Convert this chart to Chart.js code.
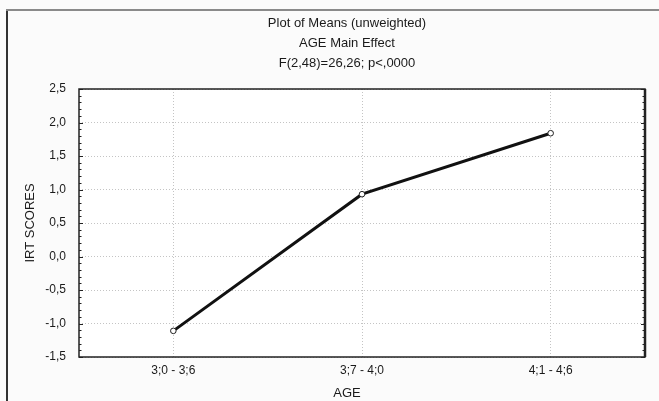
<!DOCTYPE html>
<html>
<head>
<meta charset="utf-8">
<script src="https://cdn.jsdelivr.net/npm/chart.js@4.4.1/dist/chart.umd.min.js"></script>
<style>
  html, body { margin: 0; padding: 0; background: #fbfbfb; }
  #wrap { position: relative; width: 659px; height: 401px; }
</style>
</head>
<body>
<div id="wrap"><canvas id="chart" width="659" height="401"></canvas></div>
<script>
// data
const ageGroups = ['3;0 - 3;6', '3;7 - 4;0', '4;1 - 4;6'];
const irtMeans = [-1.11, 0.93, 1.84];
const titleLines = ['Plot of Means (unweighted)', 'AGE Main Effect', 'F(2,48)=26,26; p<,0000'];
const yTicks = [-1.5, -1.0, -0.5, 0.0, 0.5, 1.0, 1.5, 2.0, 2.5];

const FONT = '"Liberation Sans", Arial, sans-serif';
const TEXT = '#1a1a1a';
const comma = v => v.toFixed(1).replace('.', ',');

// outer frame + plot box + minor ticks (Statistica look)
const framePlugin = {
    id: 'frame',
    beforeDraw(chart) {
        const c = chart.ctx;
        c.save();
        c.fillStyle = '#fbfbfb';
        c.fillRect(0, 0, chart.width, chart.height);
        c.strokeStyle = '#8a8a8a';
        c.lineWidth = 2;
        c.beginPath();
        c.moveTo(7, chart.height);
        c.lineTo(7, 10);
        c.lineTo(chart.width, 10);
        c.stroke();
        c.strokeStyle = '#333';
        c.beginPath();
        c.moveTo(7, chart.height);
        c.lineTo(7, 11);
        c.stroke();
        const a = chart.chartArea;
        c.fillStyle = '#ffffff';
        c.fillRect(a.left, a.top, a.right - a.left, a.bottom - a.top);
        c.restore();
    },
    afterDraw(chart) {
        const c = chart.ctx, a = chart.chartArea, y = chart.scales.y;
        c.save();
        c.strokeStyle = '#222';
        c.lineWidth = 1.5;
        c.strokeRect(a.left, a.top, a.right - a.left, a.bottom - a.top);
        c.lineWidth = 2.5;
        c.beginPath();
        c.moveTo(a.right, a.top);
        c.lineTo(a.right, a.bottom);
        c.stroke();
        c.lineWidth = 1;
        for (let i = -15; i <= 25; i++) {
            const py = Math.round(y.getPixelForValue(i / 10)) + 0.5;
            const len = i % 5 === 0 ? 4 : 2.5;
            c.beginPath();
            c.moveTo(a.left, py); c.lineTo(a.left + len, py);
            c.moveTo(a.right, py); c.lineTo(a.right - len, py);
            c.stroke();
        }
        c.restore();
    }
};

new Chart(document.getElementById('chart'), {
    type: 'line',
    data: {
        labels: ageGroups,
        datasets: [{
            data: irtMeans,
            borderColor: '#111',
            borderWidth: 3,
            tension: 0,
            pointRadius: 2.8,
            pointBackgroundColor: '#fff',
            pointBorderColor: '#222',
            pointBorderWidth: 1
        }]
    },
    options: {
        responsive: false,
        animation: false,
        layout: { padding: { top: 13, right: 0, left: 35, bottom: 0 } },
        plugins: {
            legend: { display: false },
            tooltip: { enabled: false },
            title: {
                display: true,
                text: titleLines,
                color: TEXT,
                font: { family: FONT, size: 13, weight: 'normal', lineHeight: 20 / 13 },
                padding: { top: 0, bottom: 16 }
            },
            subtitle: {
                display: true,
                position: 'bottom',
                text: 'AGE',
                color: TEXT,
                font: { family: FONT, size: 13, weight: 'normal', lineHeight: 16 / 13 },
                padding: { top: 0, bottom: 0 }
            }
        },
        scales: {
            x: {
                offset: true,
                grid: {
                    color: '#c4c4c4',
                    lineWidth: 1,
                    tickLength: 0,
                    offset: false
                },
                border: { display: false, dash: [1, 2] },
                ticks: {
                    color: TEXT,
                    font: { family: FONT, size: 12 },
                    padding: 6,
                    maxRotation: 0
                },
                afterFit(scale) { scale.height = 28; }
            },
            y: {
                min: -1.5,
                max: 2.5,
                afterBuildTicks(scale) { scale.ticks = yTicks.map(v => ({ value: v })); },
                grid: {
                    color: '#c4c4c4',
                    lineWidth: 1,
                    tickLength: 0
                },
                border: { display: false, dash: [1, 2] },
                ticks: {
                    color: TEXT,
                    font: { family: FONT, size: 12 },
                    padding: 13,
                    callback: v => comma(v)
                },
                title: {
                    display: true,
                    text: 'IRT SCORES',
                    color: TEXT,
                    font: { family: FONT, size: 13 },
                    padding: { top: -12, bottom: 0 }
                },
                afterFit(scale) { scale.width = 44; }
            },
            yRight: {
                position: 'right',
                min: -1.5,
                max: 2.5,
                grid: { display: false, drawTicks: false },
                border: { display: false },
                ticks: { display: false },
                afterFit(scale) { scale.width = 14; }
            }
        }
    },
    plugins: [framePlugin]
});
</script>
</body>
</html>
